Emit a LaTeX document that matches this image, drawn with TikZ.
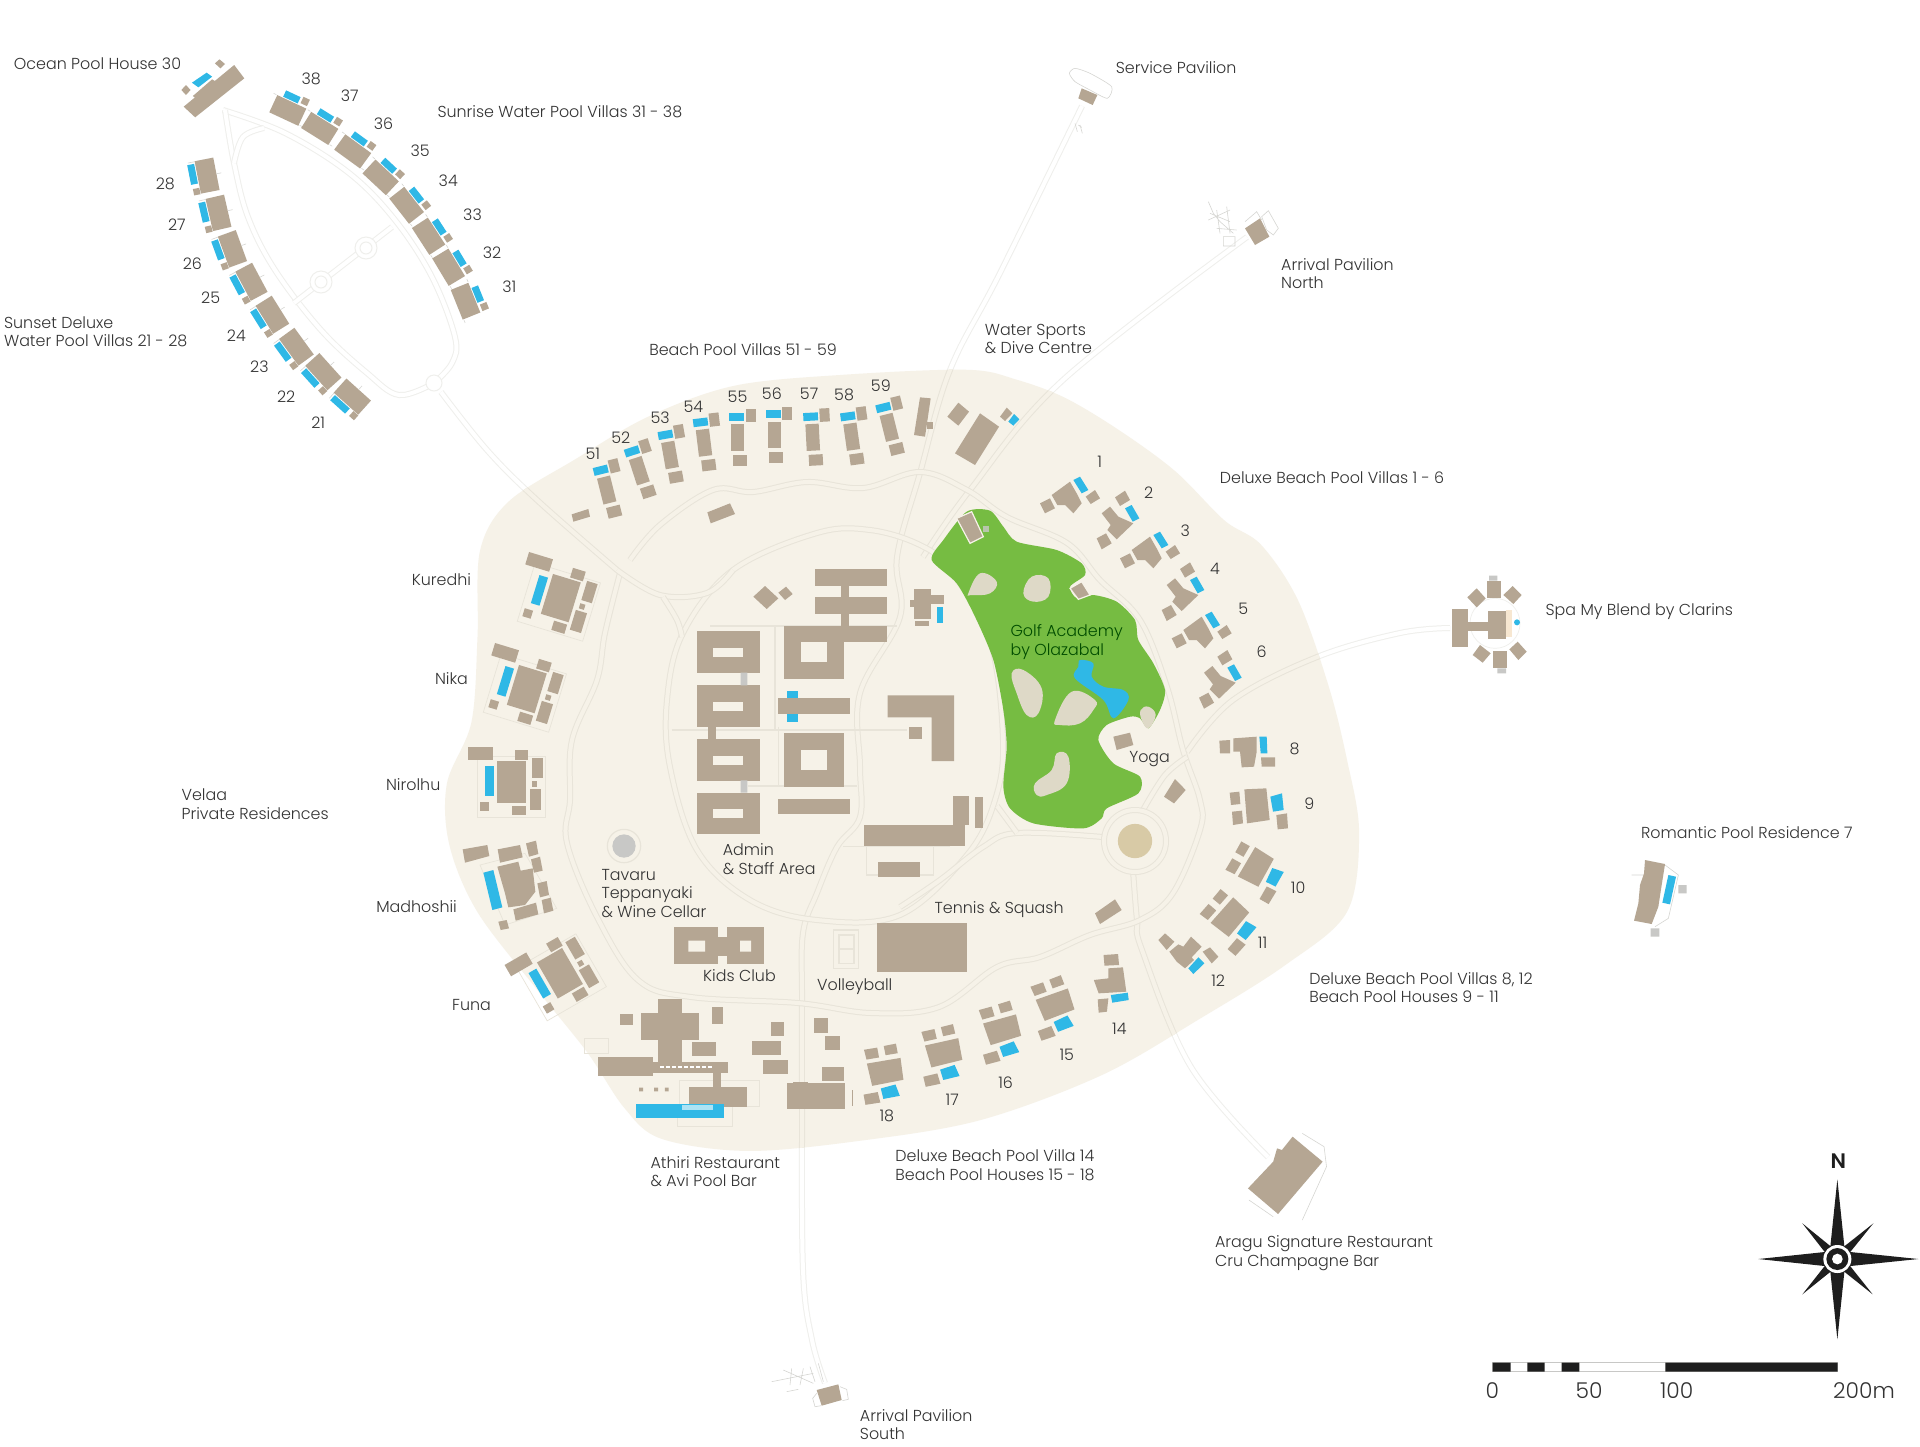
\documentclass[tikz,border=0pt]{standalone}
\usepackage{fontspec}
\setmainfont{Poppins}[UprightFont=* Light,BoldFont=* SemiBold]
\usetikzlibrary{calc}
\definecolor{isle}{HTML}{F6F2E8}
\definecolor{bld}{HTML}{B5A693}
\definecolor{pool}{HTML}{2FB8E6}
\definecolor{golf}{HTML}{76BC42}
\definecolor{sand}{HTML}{DED9C7}
\definecolor{disc}{HTML}{D8CAA6}
\definecolor{rdl}{HTML}{E8E4D9}
\definecolor{ofl}{HTML}{EFEFEC}
\definecolor{pale}{HTML}{D6D6D2}
\definecolor{txt}{HTML}{333333}
\definecolor{grayb}{HTML}{C8C8C6}
\definecolor{ink}{HTML}{1E1E1E}
\tikzset{
 road/.style={draw=rdl,line width=.5pt,double=isle,double distance=2pt},
 offroad/.style={draw=ofl,line width=.5pt,double=white,double distance=2pt},
 fine/.style={draw=ofl,line width=.35pt},
 faint/.style={draw=pale,line width=.3pt},
 finei/.style={draw=rdl,line width=.35pt},
 lab/.style={anchor=base west,inner sep=0pt,align=left,text=txt,font=\fontsize{7.95}{9.2}\selectfont},
 z1/.style={shift={(0,30)},x=.2296pt,y=-.16667pt},
 z2/.style={shift={(450,500)},x=.16667pt,y=-.16667pt},
 z3/.style={shift={(900,480)},x=.16667pt,y=-.16667pt},
 z4/.style={shift={(580,950)},x=.24237pt,y=-.16667pt},
 z5/.style={shift={(540,360)},x=.16667pt,y=-.16667pt},
 z6/.style={shift={(1440,1130)},x=.16667pt,y=-.16667pt},
 z7/.style={shift={(1000,40)},x=.16667pt,y=-.16667pt},
 z8/.style={shift={(1420,560)},x=.16667pt,y=-.16667pt},
 z9/.style={shift={(1120,900)},x=.16667pt,y=-.16667pt},
 z10/.style={shift={(750,1340)},x=.16667pt,y=-.16667pt},
 zu/.style={x=.16667pt,y=-.16667pt},
 disp/.style={x=.6122pt,y=-.6122pt},
}
\newcommand\bx[2]{\fill[bld] #1 rectangle #2;}
\newcommand\pg[1]{\fill[bld] #1 -- cycle;}
\newcounter{lb}
\newcommand\lbl[3][]{\stepcounter{lb}\node[lab,#1] (lab\arabic{lb}) at (#2) {#3};}
\newcommand\wvE[3]{\begin{scope}[shift={(#1,#2)},rotate=#3,x=.5pt,y=-.5pt]
 \fill[bld] (-10,-16) rectangle (9,16);
 \fill[pool] (10,-10) rectangle (17,6);
 \fill[bld] (11.5,8.5) rectangle (18.5,15.5);
 \draw[faint] (9,-17) -- (9,-20) (-9,17) -- (-9,20);
\end{scope}}
\newcommand\wvW[3]{\begin{scope}[shift={(#1,#2)},rotate=#3,x=.5pt,y=-.5pt]
 \fill[bld] (-9,-16.5) rectangle (10,16.5);
 \fill[pool] (-17,-14) rectangle (-10,6);
 \fill[bld] (-16,10.5) rectangle (-9.5,17);
 \draw[faint] (-16,-16) -- (-9,-16) (10,0) -- (15,0);
\end{scope}}
\newcommand\bv[3]{\begin{scope}[shift={(#1,#2)},rotate=#3,zu]
 \fill[bld] (-20,-40) rectangle (20,40);
 \fill[bld] (-15,52) rectangle (27,85);
 \fill[pool] (-25,-74) rectangle (19,-50);
 \fill[bld] (24,-85) rectangle (54,-45);
\end{scope}}
\newcommand\bph[3]{\begin{scope}[shift={(#1,#2)},rotate=#3,zu]
 \pg{(-38,-50) -- (28,-53) -- (38,42) -- (-30,52)}
 \fill[pool] (40,-28) -- (75,-38) -- (80,12) -- (48,17) -- cycle;
 \pg{(-82,-40) -- (-53,-43) -- (-50,-6) -- (-78,-3)}
 \pg{(-75,17) -- (-45,14) -- (-42,52) -- (-72,57)}
 \pg{(58,27) -- (90,22) -- (93,67) -- (62,70)}
\end{scope}}
\newcommand\dvA[2]{\begin{scope}[z3,xshift=#1*.16667pt,yshift=-#2*.16667pt]
 \pg{(695,210) -- (750,170) -- (770,205) -- (785,235) -- (760,265) -- (735,240) -- (712,240)}
 \pg{(660,235) -- (690,220) -- (705,250) -- (675,265)}
 \fill[pool] (760,165) -- (780,155) -- (805,195) -- (785,205) -- cycle;
 \pg{(797,215) -- (825,195) -- (840,220) -- (812,237)}
\end{scope}}
\newcommand\dvB[2]{\begin{scope}[z3,xshift=#1*.16667pt,yshift=-#2*.16667pt]
 \pg{(605,100) -- (630,80) -- (655,110) -- (700,130) -- (650,178) -- (622,150) -- (632,135)}
 \pg{(590,175) -- (618,160) -- (635,190) -- (605,208)}
 \pg{(645,52) -- (675,32) -- (690,60) -- (660,78)}
 \fill[pool] (675,85) -- (695,75) -- (718,115) -- (698,125) -- cycle;
\end{scope}}
\newcommand\res[4]{\begin{scope}[shift={(#1,#2)},rotate=#3,zu]
 \draw[finei] (-105,-78) rectangle (100,105);
 \fill[bld] (-44,-62) rectangle (43,63);
 \fill[bld] (-132,-104) rectangle (-57,-65);
 \fill[pool] (-82,-47) rectangle (-55,#4);
 \fill[bld] (8,-97) rectangle (48,-67);
 \fill[bld] (60,-72) rectangle (93,-12);
 \fill[bld] (60,-2) rectangle (76,14);
 \fill[bld] (53,21) rectangle (88,83);
 \fill[bld] (0,71) rectangle (41,100);
 \fill[bld] (-95,61) rectangle (-69,86);
\end{scope}}
\newcommand\IslePath{plot[smooth cycle,tension=.55] coordinates{(790,302)(830,310)(870,325)(915,352)(960,385)(1000,425)(1030,445)(1060,490)(1085,560)(1100,620)(1110,680)(1100,745)(1050,788)(980,832)(900,878)(800,915)(700,932)(610,940)(540,930)(510,905)(480,860)(440,810)(390,745)(367,690)(365,640)(385,590)(390,520)(392,450)(415,410)(470,375)(530,340)(600,315)(690,306)}}
\newcommand\LongRoads{
 plot[smooth,tension=.6] coordinates{(1082,106)(1000,273)(950,370)(920,473)(897,557)(900,617)(860,693)(860,767)(860,817)(837,847)(817,893)(803,933)(802,1000)(802,1100)(803,1270)(812,1340)(825,1383)}
 plot[smooth,tension=.6] coordinates{(1247,237)(1063,380)(970,490)(923,557)}
 plot[smooth,tension=.6] coordinates{(1187,752)(1233,700)(1317,657)(1400,633)(1450,628)}
 plot[smooth,tension=.6] coordinates{(1133,870)(1137,920)(1142,950)(1191,1067)(1268,1157)}
 plot[smooth,tension=.6] coordinates{(441,392)(487,450)(537,500)(617,570)}
}
\begin{document}
\begin{tikzpicture}[x=.5pt,y=-.5pt]
\useasboundingbox (0,0) rectangle (1920,1446);
\fill[white] (0,0) rectangle (1920,1446);
% ---- water loop
\draw[offroad] plot[smooth,tension=.6] coordinates{(223,110)(285,133)(349,173)(395,220)(432,277)(455,337)(452,363)(434,383)};
\draw[offroad] plot[smooth,tension=.6] coordinates{(225,110)(234,163)(248,217)(275,270)(321,330)(367,373)(399,395)(434,383)};
\draw[offroad] plot[smooth,tension=.6] coordinates{(264,128)(243,137)(234,163)};
\draw[offroad] (294,303) -- (392,227);
\foreach \c in {(321,282),(366,248)}{\fill[white] \c circle (11); \draw[ofl,line width=.5pt] \c circle (11); \draw[ofl,line width=.5pt] \c circle (6);}
\fill[white,draw=ofl,line width=.5pt] (434,383) circle (8);
\draw[offroad] \LongRoads;
% ---- island
\begin{scope}[disp]
 \fill[isle] \IslePath;
 \clip \IslePath;
 \begin{scope}[x=.5pt,y=-.5pt]
  \draw[road] \LongRoads;
 \end{scope}
\end{scope}
% ---- island roads
\draw[road] plot[smooth,tension=.6] coordinates{(630,560)(660,525)(713,490)(753,492)(807,482)(863,488)(920,472)(967,490)(1007,517)(1067,543)(1100,580)(1140,620)(1167,687)(1183,750)(1200,800)(1200,830)(1173,893)(1140,920)(1090,935)(1040,957)(997,967)(939,1007)(871,1013)(798,1003)(691,997)(638,980)(597,917)(567,843)(570,800)(572,740)(597,680)(605,633)(620,573)};
\draw[road] plot[smooth cycle,tension=.6] coordinates{(817,533)(733,570)(683,633)(667,700)(670,767)(697,850)(750,900)(817,920)(900,915)(967,855)(995,800)(1003,740)(990,640)(950,570)(920,545)(870,530)};
\draw[road] plot[smooth,tension=.6] coordinates{(617,570)(660,595)(707,593)(733,570)};
\draw[road] plot[smooth,tension=.6] coordinates{(663,597)(677,620)(682,637)};
\draw[road] plot[smooth,tension=.6] coordinates{(1103,837)(1017,833)(983,847)(940,880)(900,907)};
\draw[road] plot[smooth,tension=.6] coordinates{(1143,810)(1165,775)(1187,757)};
\draw[road] (1017,833) -- (997,806);
\draw[road] (1135,841) circle (31);
% admin paths
\begin{scope}[z2]
 \draw[finei,line width=.6pt] (665,690) -- (1370,690) (780,378) -- (1340,378) (975,380) -- (975,690) (985,680) -- (985,860) (895,858) -- (1220,858);
 \draw[finei,line width=.6pt] (1180,1040) -- (1500,1040) (1250,1020) rectangle (1450,1125);
 \draw[finei,line width=.6pt] (1150,1290) rectangle (1225,1405) (1167,1305) rectangle (1212,1390) (1167,1347) -- (1212,1347);
\end{scope}
% ---- golf
\begin{scope}[z3]
 \fill[golf] plot[smooth cycle,tension=.45] coordinates{(95,240)(130,180)(200,95)(270,92)(310,140)(350,185)(470,210)(545,250)(555,285)(510,320)(530,355)(580,345)(650,365)(705,420)(715,480)(760,550)(795,630)(780,690)(745,745)(720,715)(690,710)(620,735)(595,780)(640,850)(720,890)(715,940)(620,985)(605,1015)(550,1045)(400,1030)(330,985)(310,920)(320,800)(310,690)(280,540)(225,410)(170,310)};
 \fill[sand] plot[smooth cycle,tension=.7] coordinates{(205,340)(240,280)(290,305)(270,340)(215,345)};
 \fill[sand] plot[smooth cycle,tension=.7] coordinates{(370,340)(395,290)(445,295)(445,350)(400,365)};
 \fill[sand] plot[smooth cycle,tension=.7] coordinates{(335,580)(370,570)(425,625)(415,700)(380,705)(350,640)};
 \fill[sand] plot[smooth cycle,tension=.7] coordinates{(465,720)(515,635)(585,660)(580,690)(540,730)(480,735)};
 \fill[sand] plot[smooth cycle,tension=.7] coordinates{(405,910)(455,870)(470,820)(505,830)(500,910)(440,945)(410,945)};
 \fill[sand] plot[smooth cycle,tension=.7] coordinates{(722,690)(745,680)(767,705)(745,745)(725,720)};
 \fill[pool] plot[smooth cycle,tension=.6] coordinates{(540,540)(580,550)(575,590)(610,620)(670,630)(685,660)(640,715)(610,660)(525,595)(535,560)};
 \draw[isle,line width=.6pt,fill=bld] (170,115) -- (215,95) -- (250,170) -- (210,190) -- cycle;
 \fill[grayb!80!golf] (248,137) rectangle (268,157);
 \draw[isle,line width=.6pt,fill=bld] (510,325) -- (545,305) -- (570,345) -- (535,358) -- cycle;
 \pg{(640,770) -- (690,758) -- (700,795) -- (650,810)}
 \pg{(792,950) -- (825,897) -- (857,930) -- (822,970)}
 \pg{(585,1300) -- (645,1258) -- (665,1290) -- (600,1332)}
 \fill[disc] (705,1083) circle (51.4);
 \pg{(1000,775) -- (1070,770) -- (1070,815) -- (1062,860) -- (1025,862) -- (1020,815) -- (1000,815)}
 \pg{(958,782) -- (990,780) -- (990,820) -- (960,820)}
 \fill[pool] (1078,770) -- (1100,770) -- (1102,820) -- (1082,820) -- cycle;
 \pg{(1083,832) -- (1125,832) -- (1125,860) -- (1085,860)}
\end{scope}
\dvA{-240}{-165}\dvA{0}{0}\dvA{155}{240}
\dvB{0}{0}\dvB{195}{215}\dvB{307}{478}
\bph{1257}{806}{0}\bph{1256}{868}{-35}\bph{1230}{918}{-46}
\bph{1055}{1005}{-75}\bph{1002}{1030}{-79}\bph{943.5}{1053}{-82}\bph{885}{1072}{-85}
% villa 12
\begin{scope}[z9]
 \pg{(115,120) -- (135,100) -- (163,125) -- (140,150)}
 \pg{(148,155) -- (175,133) -- (190,140) -- (213,110) -- (245,140) -- (215,172) -- (222,180) -- (195,205) -- (170,185)}
 \fill[pool] (205,205) -- (235,172) -- (253,190) -- (220,222) -- cycle;
 \pg{(248,155) -- (270,142) -- (295,170) -- (275,190)}
\end{scope}
\begin{scope}[z4]
 \pg{(1080,15) -- (1110,12) -- (1112,45) -- (1082,47)}
 \pg{(1090,55) -- (1120,52) -- (1127,125) -- (1070,130) -- (1060,90) -- (1090,85)}
 \pg{(1068,148) -- (1090,145) -- (1087,185) -- (1070,188)}
 \fill[pool] (1095,135) -- (1130,128) -- (1132,150) -- (1098,158) -- cycle;
\end{scope}
% ---- beach villas
\bv{606.7}{490}{14}\bv{639.3}{470.7}{18}\bv{670}{455}{10}\bv{704}{442.7}{7}\bv{737.7}{437.3}{0}\bv{774.3}{435}{0}\bv{812.7}{437.3}{3}\bv{851.7}{436.7}{8}\bv{889.3}{427.3}{14}
\begin{scope}[z5]
 \pg{(1140,112) -- (1172,115) -- (1155,230) -- (1122,225)}
 \bx{(1160,185)}{(1180,208)}
 \pg{(1222,170) -- (1255,128) -- (1287,155) -- (1255,197)}
 \pg{(1320,160) -- (1377,200) -- (1305,315) -- (1245,280)}
 \pg{(1380,170) -- (1400,143) -- (1417,160) -- (1395,183)}
 \fill[pool] (1405,185) -- (1422,162) -- (1438,178) -- (1420,197) -- cycle;
 \pg{(95,463) -- (145,447) -- (150,470) -- (100,485)}
 \pg{(502,457) -- (570,430) -- (585,462) -- (512,490)}
\end{scope}
% ---- residences
\res{561}{598}{-17}{41}\res{527}{689}{-17}{41}\res{512}{782}{0}{41}\res{560}{973}{30}{41}
% Madhoshii
\begin{scope}[z2]
 \draw[finei] (90,1095) -- (225,1060) -- (320,1225) -- (165,1275) -- cycle;
 \pg{(38,1048) -- (112,1035) -- (118,1068) -- (45,1088)}
 \pg{(143,1048) -- (210,1035) -- (218,1072) -- (150,1088)}
 \pg{(228,1030) -- (258,1022) -- (265,1062) -- (237,1070)}
 \pg{(142,1100) -- (205,1085) -- (212,1112) -- (248,1105) -- (256,1175) -- (225,1215) -- (175,1222) -- (165,1180)}
 \pg{(243,1078) -- (270,1070) -- (278,1112) -- (252,1118)}
 \pg{(262,1150) -- (290,1143) -- (297,1185) -- (270,1192)}
 \pg{(275,1200) -- (302,1193) -- (310,1232) -- (282,1240)}
 \pg{(190,1228) -- (258,1208) -- (265,1243) -- (197,1262)}
 \pg{(145,1265) -- (170,1260) -- (177,1285) -- (152,1290)}
 \fill[pool] (100,1118) -- (130,1110) -- (157,1222) -- (127,1230) -- cycle;
\end{scope}
% ---- admin
\begin{scope}[z2]
 \foreach \y in {393,556,717,878}{
  \bx{(740,\y)}{(930,\y+125)}
  \fill[isle] (790,\y+50) rectangle (880,\y+77);}
 \bx{(775,680)}{(797,717)}
 \fill[grayb] (872,518) rectangle (892,556) (872,841) rectangle (892,878);
 \foreach \y in {377,700}{
  \bx{(1003,\y)}{(1181,\y+160)}
  \fill[isle] (1052,\y+49) rectangle (1132,\y+110);}
 \bx{(1096,208)}{(1311,257)}\bx{(1096,292)}{(1311,341)}\bx{(1170,377)}{(1311,425)}\bx{(1172,257)}{(1197,377)}
 \fill[pool] (1010,572) rectangle (1044,665);
 \bx{(984,595)}{(1199,642)}\bx{(984,897)}{(1199,943)}
 \pg{(1313,586) -- (1512,586) -- (1512,783) -- (1445,783) -- (1445,652) -- (1313,652)}
 \bx{(1378,682)}{(1415,718)}
 \bx{(1243,975)}{(1545,1037)}
 \bx{(1285,1087)}{(1410,1130)}
 \bx{(1282,1270)}{(1552,1415)}
 \bx{(1510,888)}{(1558,975)}
 \bx{(1575,890)}{(1600,985)}
 \bx{(673,1282)}{(805,1393)}\bx{(832,1282)}{(942,1393)}\bx{(805,1312)}{(832,1367)}
 \fill[isle] (715,1322) rectangle (765,1355) (870,1322) rectangle (903,1355);
 \pg{(910,290) -- (945,258) -- (985,295) -- (950,327)}
 \pg{(985,278) -- (1008,260) -- (1028,282) -- (1005,300)}
 \bx{(1392,268)}{(1443,358)}\bx{(1392,285)}{(1482,312)}\bx{(1380,300)}{(1392,322)}
 \fill[pool] (1460,320) rectangle (1480,370);
 \bx{(1395,363)}{(1438,378)}
 \draw[rdl,line width=.6pt] (522,1038) circle (50);
 \fill[grayb] (522,1038) circle (35);
\end{scope}
% ---- Athiri
\begin{scope}[z4]
 \draw[finei] (8,265) rectangle (58,310);
 \draw[finei] (205,392) rectangle (370,470) (200,470) rectangle (315,528);
 \bx{(125,190)}{(245,270)}\bx{(160,148)}{(210,340)}\bx{(38,322)}{(150,378)}\bx{(150,335)}{(305,368)}
 \bx{(82,192)}{(110,225)}\bx{(272,170)}{(295,222)}\bx{(230,277)}{(280,318)}
 \bx{(393,215)}{(420,257)}\bx{(355,273)}{(415,315)}\bx{(378,330)}{(430,372)}
 \bx{(483,205)}{(512,250)}\bx{(505,257)}{(536,300)}\bx{(500,352)}{(545,392)}
 \bx{(275,365)}{(290,412)}\bx{(225,412)}{(345,470)}
 \bx{(427,400)}{(547,478)}\bx{(440,395)}{(470,400)}
 \draw[white,line width=.9pt,dash pattern=on 2pt off 1pt] (165,352) -- (275,352);
 \fill[pool] (115,463) rectangle (297,505);
 \fill[white!60!pool] (210,465) rectangle (275,480);
 \fill[bld] (122,413) rectangle (130,424) (153,413) rectangle (161,424) (175,413) rectangle (183,424);
 \draw[bld,line width=.4pt] (561,420) -- (561,468);
\end{scope}
% ---- water villas
\wvW{206.6}{175.7}{11}\wvW{218}{213}{13}\wvW{232}{249}{20}\wvW{251}{282}{28}\wvW{272}{315}{32}\wvW{296}{347}{36}\wvW{323}{372}{42}\wvW{352}{397}{48}
\wvE{288}{110}{65}\wvE{320}{128}{58}\wvE{353}{151}{54}\wvE{381}{177}{47}\wvE{407}{205}{38}\wvE{429}{236}{33}\wvE{449}{267}{31}\wvE{466}{301}{22}
% ---- house 30
\begin{scope}[z1]
 \pg{(400,230) -- (510,105) -- (532,145) -- (425,262)}
 \pg{(420,198) -- (462,148) -- (482,165) -- (440,220)}
 \fill[pool] (418,158) -- (450,128) -- (462,140) -- (432,172) -- cycle;
 \fill[bld] (395,180) -- (405,165) -- (415,180) -- (405,195) -- cycle;
 \fill[bld] (468,100) -- (478,88) -- (490,102) -- (480,115) -- cycle;
\end{scope}
% ---- service and arrival north pavilions
\begin{scope}[z7]
 \draw[faint,fill=white] plot[smooth cycle,tension=.4] coordinates{(208,100)(225,85)(270,100)(335,140)(322,175)(270,150)(225,125)};
 \draw[faint] (235,255) -- (245,262) (225,250) -- (232,275) (240,255) -- (247,280);
 \pg{(245,145) -- (292,165) -- (278,195) -- (235,175)}
 \draw[faint] (735,545) -- (770,515) -- (785,540) (785,530) -- (805,512) -- (835,565) -- (820,585) -- (800,570) -- cycle;
 \draw[faint] (625,485) -- (640,520) -- (660,545) -- (700,580) (625,540) -- (690,510) (630,520) -- (690,545) (650,565) -- (710,570) (670,590) rectangle (705,618) (650,510) -- (660,580) (680,500) -- (690,580);
 \pg{(735,565) -- (780,535) -- (808,590) -- (765,615)}
\end{scope}
% ---- Arrival south
\begin{scope}[z10]
 \draw[faint] (65,125) -- (190,100) (100,90) -- (190,130) (125,85) -- (120,135) (160,85) -- (150,135) (180,80) -- (195,125) (110,155) -- (145,148) (205,70) -- (220,125);
 \draw[faint] (200,160) -- (188,175) -- (195,200) -- (213,197) (270,140) -- (290,148) -- (295,178) -- (277,182);
 \pg{(200,150) -- (265,133) -- (275,180) -- (215,197)}
\end{scope}
% ---- Aragu
\begin{scope}[z4]
 \draw[faint] (1490,550) -- (1535,590) -- (1540,650) -- (1490,810) (1380,750) -- (1430,800);
 \pg{(1470,560) -- (1532,635) -- (1440,792) -- (1378,715) -- (1430,635) -- (1438,595) -- (1448,600)}
\end{scope}
% ---- Romantic
\begin{scope}[z8]
 \draw[faint] (735,915) -- (775,945) -- (745,1075) -- (705,1100) (635,945) -- (670,945);
 \pg{(675,900) -- (735,912) -- (725,975) -- (715,1040) -- (695,1092) -- (642,1082) -- (655,1030) -- (660,975) -- (672,940)}
 \fill[pool] (745,945) -- (768,950) -- (750,1033) -- (727,1028) -- cycle;
 \fill[grayb] (775,975) rectangle (800,1000) (692,1105) rectangle (718,1130);
\end{scope}
% ---- Spa
\begin{scope}[z8]
 \draw[fine] (225,190) circle (75);
 \fill[grayb] (207,47) rectangle (232,62) (232,325) rectangle (258,340);
 \bx{(95,148)}{(143,260)}\bx{(143,185)}{(205,212)}\bx{(203,152)}{(258,237)}
 \fill[isle!90!orange] (257,150) rectangle (275,232);
 \bx{(200,62)}{(243,115)}\bx{(220,272)}{(260,325)}
 \pg{(142,112) -- (170,85) -- (197,115) -- (170,142)}
 \pg{(250,105) -- (278,78) -- (305,105) -- (280,132)}
 \pg{(158,285) -- (180,255) -- (212,280) -- (188,308)}
 \pg{(268,268) -- (293,245) -- (320,275) -- (295,300)}
 \fill[pool] (291,187) circle (9);
\end{scope}
% ---- compass + scale
\begin{scope}[z6]
 \fill[ink] (1192,148) -- (1217,387) -- (1192,628) -- (1167,387) -- cycle;
 \fill[ink] (955,387) -- (1192,362) -- (1435,387) -- (1192,412) -- cycle;
 \fill[ink] (1087,280) -- (1204,375) -- (1298,493) -- (1180,399) -- cycle;
 \fill[ink] (1300,280) -- (1204,399) -- (1087,493) -- (1180,375) -- cycle;
 \fill[white] (1192,387) circle (42);
 \fill[ink] (1192,387) circle (33);
 \fill[white] (1192,387) circle (16);
 \node[anchor=base,inner sep=0pt,text=ink,font=\fontsize{10.5}{12}\bfseries\selectfont] (north) at (1195,115) {N};
 \draw[grayb,line width=.4pt] (158,698) rectangle (1193,725);
 \fill[ink] (158,698) rectangle (212,725) (262,698) rectangle (314,725) (365,698) rectangle (418,725) (676,698) rectangle (1193,725);
 \foreach \xx/\t/\n in {157/0/s0,447/50/s1,710/100/s2,1272/200m/s3}
  \node[anchor=base,inner sep=0pt,text=txt,font=\fontsize{10.9}{11}\selectfont] (\n) at (\xx,805) {\t};
\end{scope}
% ---- labels
\begin{scope}[disp]
 \lbl{11,57}{Ocean Pool House 30}
 \lbl{246,69}{38}\lbl{278,83}{37}\lbl{305,106}{36}\lbl{335,128}{35}\lbl{358,152}{34}\lbl{378,180}{33}\lbl{394,211}{32}\lbl{410,239}{31}
 \lbl{357,96}{Sunrise Water Pool Villas 31 - 38}
 \lbl{127,155}{28}\lbl{137,188}{27}\lbl{149,220}{26}\lbl{164,248}{25}\lbl{185,279}{24}\lbl{204,304}{23}\lbl{226,329}{22}\lbl{254,350}{21}
 \lbl{3,283}{Sunset Deluxe\\Water Pool Villas 21 - 28}
 \lbl{530,290}{Beach Pool Villas 51 - 59}
 \lbl{478,375}{51}\lbl{499,362}{52}\lbl{531,346}{53}\lbl{558,337}{54}\lbl{594,329}{55}\lbl{622,326}{56}\lbl{653,326}{57}\lbl{681,327}{58}\lbl{711,320}{59}
 \lbl{804,289}{Water Sports\\\& Dive Centre}
 \lbl{911,60}{Service Pavilion}
 \lbl{1046,236}{Arrival Pavilion\\North}
 \lbl{996,395}{Deluxe Beach Pool Villas 1 - 6}
 \lbl{896,382}{1}\lbl{934,407}{2}\lbl{964,438}{3}\lbl{988,469}{4}\lbl{1011,502}{5}\lbl{1026,537}{6}
 \lbl{1262,503}{Spa My Blend by Clarins}
 \lbl{336,478}{Kuredhi}\lbl{355,559}{Nika}\lbl{315,646}{Nirolhu}
 \lbl{148,669}{Velaa\\Private Residences}
 \lbl{307,745}{Madhoshii}\lbl{369,825}{Funa}
 \lbl[text={green!30!black}]{825,535}{Golf Academy\\by Olazabal}
 \lbl{922,623}{Yoga}
 \lbl{1053,616}{8}\lbl{1065,661}{9}\lbl{1054,730}{10}\lbl{1027,775}{11}\lbl{989,806}{12}
 \lbl{908,845}{14}\lbl{865,866}{15}\lbl{815,889}{16}\lbl{772,903}{17}\lbl{718,916}{18}
 \lbl{590,714}{Admin\\\& Staff Area}
 \lbl{491,749}{Tavaru\\Teppanyaki\\\& Wine Cellar}
 \lbl{574,802}{Kids Club}\lbl{667,809}{Volleyball}\lbl{763,746}{Tennis \& Squash}
 \lbl{1069,819}{Deluxe Beach Pool Villas 8, 12\\Beach Pool Houses 9 - 11}
 \lbl{1340,685}{Romantic Pool Residence 7}
 \lbl{531,969}{Athiri Restaurant\\\& Avi Pool Bar}
 \lbl{731,964}{Deluxe Beach Pool Villa 14\\Beach Pool Houses 15 - 18}
 \lbl{992,1034}{Aragu Signature Restaurant\\Cru Champagne Bar}
 \lbl{702,1176}{Arrival Pavilion\\South}
\end{scope}
\end{tikzpicture}
\end{document}
